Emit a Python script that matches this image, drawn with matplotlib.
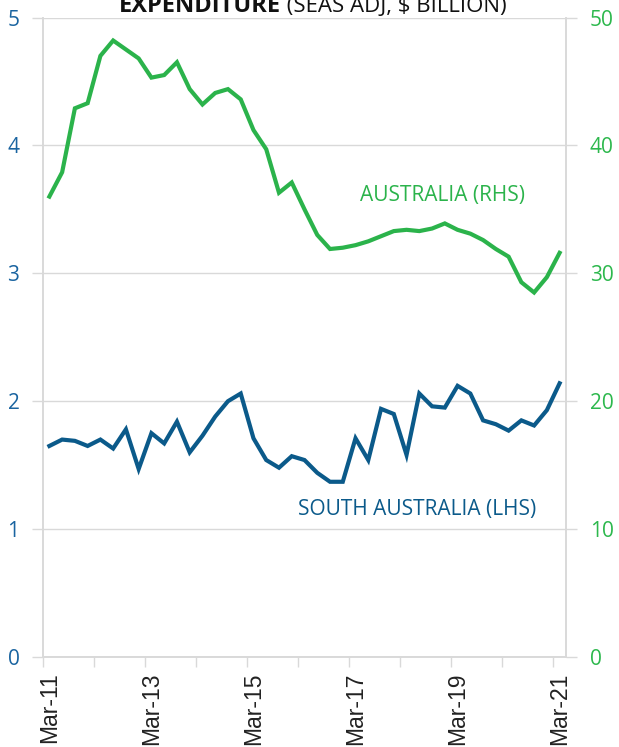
import matplotlib
matplotlib.use("Agg")
import matplotlib.pyplot as plt
import numpy as np

# Data (quarterly, Mar-11 .. Mar-21)
quarters = ["Mar-11", "Jun-11", "Sep-11", "Dec-11", "Mar-12", "Jun-12", "Sep-12", "Dec-12",
            "Mar-13", "Jun-13", "Sep-13", "Dec-13", "Mar-14", "Jun-14", "Sep-14", "Dec-14",
            "Mar-15", "Jun-15", "Sep-15", "Dec-15", "Mar-16", "Jun-16", "Sep-16", "Dec-16",
            "Mar-17", "Jun-17", "Sep-17", "Dec-17", "Mar-18", "Jun-18", "Sep-18", "Dec-18",
            "Mar-19", "Jun-19", "Sep-19", "Dec-19", "Mar-20", "Jun-20", "Sep-20", "Dec-20",
            "Mar-21"]
south_australia = [1.65, 1.70, 1.69, 1.65, 1.70, 1.63, 1.78, 1.47, 1.75, 1.67,
                   1.84, 1.60, 1.73, 1.88, 2.00, 2.06, 1.71, 1.54, 1.48, 1.57,
                   1.54, 1.44, 1.37, 1.37, 1.71, 1.54, 1.94, 1.90, 1.58, 2.06,
                   1.96, 1.95, 2.12, 2.06, 1.85, 1.82, 1.77, 1.85, 1.81, 1.93,
                   2.14]
australia = [36.0, 37.9, 42.9, 43.3, 47.0, 48.2, 47.5, 46.8, 45.3, 45.5,
             46.5, 44.4, 43.2, 44.1, 44.4, 43.6, 41.2, 39.7, 36.3, 37.1,
             35.0, 33.0, 31.9, 32.0, 32.2, 32.5, 32.9, 33.3, 33.4, 33.3,
             33.5, 33.9, 33.4, 33.1, 32.6, 31.9, 31.3, 29.3, 28.5, 29.7,
             31.6]
left_ticks = [0, 1, 2, 3, 4, 5]
right_ticks = [0, 10, 20, 30, 40, 50]

BLUE = "#0b5a8a"
GREEN = "#2bb34b"
BLUE_TXT = "#1a64a0"
GREEN_TXT = "#2db84d"
GRID = "#d9d9d9"

fig = plt.figure(figsize=(6.19, 7.47), dpi=100)
ax = fig.add_axes([43/619, 1 - 657/747, (566 - 43)/619, (657 - 17.5)/747])
ax2 = ax.twinx()

x = np.arange(len(quarters)) + 0.5
ax.plot(x, south_australia, color=BLUE, lw=3.0, solid_joinstyle="miter", zorder=3)
ax2.plot(x, australia, color=GREEN, lw=3.0, solid_joinstyle="miter", zorder=3)

ax.set_xlim(0, len(quarters))
ax.set_ylim(0, 5)
ax2.set_ylim(0, 50)

ax.set_yticks(left_ticks)
ax.set_yticklabels([str(v) for v in left_ticks])
ax2.set_yticks(right_ticks)
ax2.set_yticklabels([str(v) for v in right_ticks])

ax.yaxis.grid(True, color=GRID, lw=1)
ax.set_axisbelow(True)

label_idx = list(range(0, len(quarters), 8))
ax.set_xticks(x[label_idx])
ax.set_xticklabels([quarters[i] for i in label_idx], rotation=90,
                   fontfamily="Liberation Sans", fontsize=16.5, color="#222222")
ax.set_xticks(np.arange(0, len(quarters) + 1, 4), minor=True)
ax.tick_params(axis="x", which="major", length=0, pad=11)
ax.tick_params(axis="x", which="minor", length=7, color=GRID, width=1)

ax.tick_params(axis="y", length=8, color=GRID, width=1, pad=9,
               labelcolor=BLUE_TXT, labelsize=15)
ax2.tick_params(axis="y", length=8, color=GRID, width=1, pad=9,
                labelcolor=GREEN_TXT, labelsize=15)
for lab in ax.get_yticklabels() + ax2.get_yticklabels():
    lab.set_fontfamily("Open Sans")

for a in (ax, ax2):
    a.spines["top"].set_visible(False)
    for s in ("left", "right", "bottom"):
        a.spines[s].set_color(GRID)
        a.spines[s].set_linewidth(1.2)

fig.text(417/619, 1 - 510/747, "SOUTH AUSTRALIA (LHS)", color=BLUE,
         fontsize=15, fontfamily="Open Sans", ha="center", va="center")
fig.text(443/619, 1 - 195/747, "AUSTRALIA (RHS)", color=GREEN,
         fontsize=15, fontfamily="Open Sans", ha="center", va="center")

fig.text(281/619, 1 - 12/747, "EXPENDITURE", fontweight="bold", fontsize=17,
         fontfamily="Open Sans", ha="right", va="baseline", color="#111111")
fig.text(281/619, 1 - 12/747, " (SEAS ADJ, $ BILLION)", fontsize=16,
         fontfamily="Open Sans", ha="left", va="baseline", color="#111111")

fig.savefig("out.png", dpi=100)
